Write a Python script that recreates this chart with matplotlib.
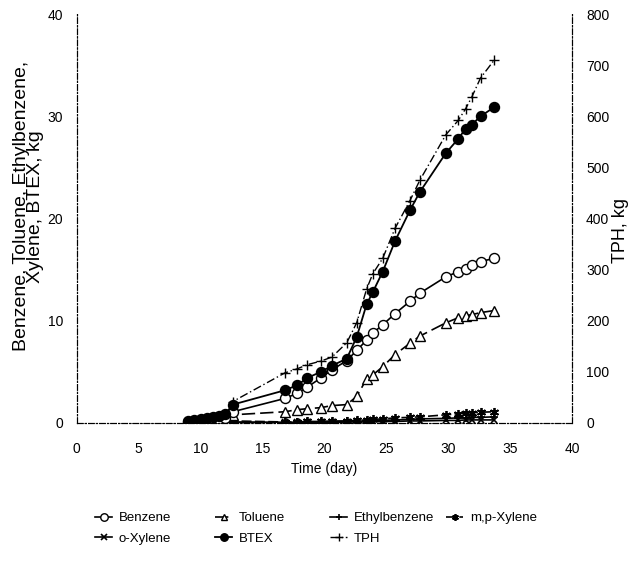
import matplotlib.pyplot as plt

plt.rcParams['font.family'] = ['Liberation Sans', 'DejaVu Sans']

# sampling days (early cluster + later samples)
days = [9.0, 9.5, 10.0, 10.5, 11.0, 11.5, 12.0,
        12.6, 16.8, 17.8, 18.6, 19.7, 20.6, 21.8, 22.6, 23.4, 23.9,
        24.7, 25.7, 26.9, 27.7, 29.8, 30.8, 31.4, 31.9, 32.6, 33.7]

benzene = [0.1, 0.15, 0.2, 0.25, 0.3, 0.35, 0.45,
           1.1, 2.4, 2.9, 3.5, 4.4, 5.2, 6.1, 7.1, 8.1, 8.8,
           9.6, 10.7, 11.9, 12.7, 14.3, 14.8, 15.1, 15.5, 15.8, 16.1]
toluene = [0.05, 0.1, 0.15, 0.2, 0.25, 0.3, 0.35,
           0.8, 1.1, 1.3, 1.4, 1.5, 1.7, 1.8, 2.6, 4.3, 4.7,
           5.5, 6.7, 7.8, 8.5, 9.8, 10.3, 10.5, 10.6, 10.8, 11.0]
ethylbenzene = [0.05, 0.05, 0.05, 0.1, 0.1, 0.1, 0.1,
                0.1, 0.05, 0.05, 0.1, 0.1, 0.1, 0.15, 0.15, 0.2, 0.2,
                0.25, 0.3, 0.35, 0.4, 0.45, 0.5, 0.5, 0.55, 0.55, 0.6]
mp_xylene = [0.05, 0.05, 0.1, 0.1, 0.1, 0.15, 0.15,
             0.2, 0.1, 0.1, 0.15, 0.15, 0.2, 0.2, 0.25, 0.3, 0.35,
             0.4, 0.5, 0.55, 0.6, 0.8, 0.9, 0.95, 1.0, 1.05, 1.1]
o_xylene = [0.0, 0.0, 0.05, 0.05, 0.05, 0.05, 0.05,
            0.05, 0.05, 0.05, 0.05, 0.05, 0.05, 0.1, 0.1, 0.1, 0.1,
            0.15, 0.15, 0.2, 0.2, 0.25, 0.25, 0.3, 0.3, 0.3, 0.3]
btex = [0.2, 0.3, 0.4, 0.5, 0.6, 0.7, 0.9,
        1.8, 3.2, 3.7, 4.4, 5.0, 5.6, 6.3, 8.4, 11.6, 12.8,
        14.8, 17.8, 20.8, 22.6, 26.4, 27.8, 28.8, 29.2, 30.0, 30.9]
tph = [3, 5, 7, 9, 11, 13, 17,
       42, 98, 106, 114, 121, 129, 157, 196, 262, 292,
       322, 381, 435, 475, 564, 592, 615, 638, 675, 710]

fig = plt.figure(figsize=(6.35, 5.67), dpi=100)
ax = fig.add_axes([0.121, 0.254, 0.780, 0.721])
ax2 = ax.twinx()

ax.plot(days, o_xylene, color='black', lw=1.2, marker='x', ms=5, mew=1.2, label='o-Xylene')
ax.plot(days, ethylbenzene, color='black', lw=1.2, marker='+', ms=6, mew=1.2, label='Ethylbenzene')
ax.plot(days, mp_xylene, color='black', lw=1.2, ls=(0, (6, 2)), marker=(6, 2, 0), ms=6.5, mew=1.3,
        label='m,p-Xylene')
ax.plot(days, toluene, color='black', lw=1.2, ls=(0, (8, 3)), marker='^', ms=6.5, mfc='white', mew=1.0,
        label='Toluene')
ax.plot(days, benzene, color='black', lw=1.2, marker='o', ms=7.2, mfc='white', mew=1.0, label='Benzene')
ax.plot(days, btex, color='black', lw=1.3, marker='o', ms=7.2, mfc='black', label='BTEX')
ax2.plot(days, tph, color='black', lw=1.0, ls=(0, (6, 2, 1, 2)), marker='+', ms=7, mew=1.0, label='TPH')

ax.set_xlim(0, 40)
ax.set_ylim(0, 40)
ax2.set_ylim(0, 800)
ax.set_xticks(range(0, 41, 5))
ax.set_yticks(range(0, 41, 10))
ax2.set_yticks(range(0, 801, 100))

for a in (ax, ax2):
    a.spines['top'].set_visible(False)
    for s in ('left', 'right', 'bottom'):
        a.spines[s].set_linestyle((0, (5, 2, 1, 2)))
        a.spines[s].set_linewidth(0.8)
ax.tick_params(axis='y', length=0, labelsize=10, pad=10)
ax.tick_params(axis='x', length=0, labelsize=10, pad=14)
ax2.tick_params(length=0, labelsize=10, pad=10)

ax.set_xlabel('Time (day)', fontsize=10, labelpad=4)
ax.set_ylabel('Benzene, Toluene, Ethylbenzene,\nXylene, BTEX, kg', fontsize=14, linespacing=0.8)
ax.yaxis.set_label_coords(-0.066, 0.53)
ax2.set_ylabel('TPH, kg', fontsize=13)
ax2.yaxis.set_label_coords(1.081, 0.47)

# legend laid out on a fixed grid of columns, as in the original
h = {l.get_label(): l for l in ax.get_lines() + ax2.get_lines()}
columns = [['Benzene', 'o-Xylene'], ['Toluene', 'BTEX'], ['Ethylbenzene', 'TPH'], ['m,p-Xylene']]
col_x = [95, 215, 330, 446]
for names, x in zip(columns, col_x):
    fig.legend([h[k] for k in names], names, loc='upper left',
               bbox_to_anchor=(x / 635, 1 - 512 / 567), frameon=False, fontsize=9.5,
               handlelength=1.3, markerscale=0.75, handletextpad=0.5, labelspacing=0.65,
               borderpad=0, borderaxespad=0)

fig.savefig('out.png', dpi=100)
